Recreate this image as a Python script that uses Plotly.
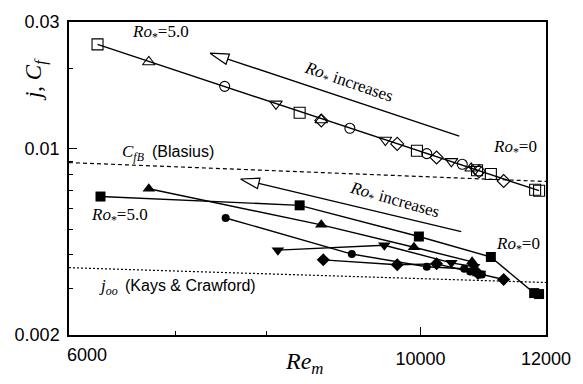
import numpy as np
import plotly.graph_objects as go

# ---------------- data ----------------
# open symbols (upper group, friction factor Cf)
os_re = [6254, 8389, 9948, 10856, 11076, 11812, 11880]
os_cf = [0.02471, 0.01369, 0.00985, 0.00832, 0.00805, 0.00703, 0.00697]
ot_re = [6738, 8657, 10763]
ot_cf = [0.02123, 0.01285, 0.00846]
oc_re = [7523, 9024, 10091, 10625]
oc_cf = [0.01719, 0.01196, 0.00961, 0.00876]
od_re = [8105, 9502, 10459, 10825]
od_cf = [0.01477, 0.01081, 0.00898, 0.00839]
odm_re = [8657, 9667, 10236, 10887, 11284]
odm_cf = [0.01280, 0.01045, 0.00929, 0.00825, 0.00758]
fit_re = [6254, 11880]
fit_cf = [0.02471, 0.00697]

# filled symbols (lower group, j)
fs_re = [6281, 8389, 9976, 11076, 11795, 11880]
fs_j = [0.006627, 0.006141, 0.004689, 0.003927, 0.002874, 0.002850]
ft_re = [6738, 8657, 9905, 10778, 10825, 10871]
ft_j = [0.007089, 0.005187, 0.004273, 0.003766, 0.003520, 0.003402]
fc_re = [7534, 9050, 10091, 10656, 10748, 10934]
fc_j = [0.005505, 0.004029, 0.003610, 0.003549, 0.003461, 0.003374]
fd_re = [8128, 9488, 10459, 10809, 10903]
fd_j = [0.004167, 0.004347, 0.003734, 0.003610, 0.003402]
fdm_re = [8682, 9667, 10236, 10871, 11284]
fdm_j = [0.003831, 0.003672, 0.003702, 0.003402, 0.003234]

# reference correlations
blas_re = [6000, 12000]
blas_cf = [0.00889, 0.00755]
kays_re = [6000, 12000]
kays_j = [0.00358, 0.00315]

# "Ro* increases" arrows (tail -> tip)
arr1_re = [10579, 7364]
arr1_v = [0.01118, 0.02290]
arr2_re = [10609, 7698]
arr2_v = [0.004890, 0.007713]

x_ticks = [10000, 12000]
x_ticktext = ["10000", "12000"]
x_first_label = "6000"
x_minor = [7000, 8000]
y_ticks = [0.002, 0.01, 0.03]
y_ticktext = ["0.002", "0.01", "0.03"]
y_minor = [0.003, 0.004, 0.005, 0.006, 0.007, 0.008, 0.009, 0.02]

# ---------------- layout geometry ----------------
WIDTH, HEIGHT = 583, 384
ML, MR, MT, MB = 69, 30, 14, 49
PW = WIDTH - ML - MR
PH = HEIGHT - MT - MB
XR = [np.log10(6000), np.log10(12000)]
YR = [np.log10(0.002), np.log10(0.03)]

def to_px(x, y):
    px = ML + PW * (np.log10(x) - XR[0]) / (XR[1] - XR[0])
    py = MT + PH - PH * (np.log10(y) - YR[0]) / (YR[1] - YR[0])
    return px, py

def from_px(px, py):
    lx = XR[0] + (px - ML) / PW * (XR[1] - XR[0])
    ly = YR[0] + (MT + PH - py) / PH * (YR[1] - YR[0])
    return 10 ** lx, 10 ** ly

def paper(px, py):
    return (px - ML) / PW, (MT + PH - py) / PH

SERIF = "Liberation Serif"
SANS = "Liberation Sans"

fig = go.Figure()

def add_open(xs, ys, sym, size):
    fig.add_trace(go.Scatter(x=xs, y=ys, mode="markers",
                             marker=dict(symbol=sym, size=size, color="black",
                                         line=dict(width=1.1, color="black")),
                             showlegend=False, hoverinfo="skip"))

def add_filled(xs, ys, sym, size):
    fig.add_trace(go.Scatter(x=xs, y=ys, mode="lines+markers",
                             line=dict(color="black", width=1.4),
                             marker=dict(symbol=sym, size=size, color="black"),
                             showlegend=False, hoverinfo="skip"))

# reference lines
fig.add_trace(go.Scatter(x=blas_re, y=blas_cf, mode="lines",
                         line=dict(color="black", width=1.2, dash="4px,3px"),
                         showlegend=False, hoverinfo="skip"))
fig.add_trace(go.Scatter(x=kays_re, y=kays_j, mode="lines",
                         line=dict(color="black", width=1.2, dash="2px,2px"),
                         showlegend=False, hoverinfo="skip"))

# upper (open) group fit line
fig.add_trace(go.Scatter(x=fit_re, y=fit_cf, mode="lines",
                         line=dict(color="black", width=1.4),
                         showlegend=False, hoverinfo="skip"))
add_open(os_re, os_cf, "square-open", 11)
add_open(ot_re, ot_cf, "triangle-up-open", 11)
add_open(oc_re, oc_cf, "circle-open", 10)
add_open(od_re, od_cf, "triangle-down-open", 11)
add_open(odm_re, odm_cf, "diamond-open", 10)

# lower (filled) group
add_filled(fs_re, fs_j, "square", 10)
add_filled(ft_re, ft_j, "triangle-up", 11)
add_filled(fc_re, fc_j, "circle", 8)
add_filled(fd_re, fd_j, "triangle-down", 11)
add_filled(fdm_re, fdm_j, "diamond", 10)

# arrows with open heads
def add_arrow(xs, ys, head_len=19, head_half=5.5):
    sx, sy = to_px(xs[0], ys[0])
    tx, ty = to_px(xs[1], ys[1])
    d = np.hypot(tx - sx, ty - sy)
    ux, uy = (tx - sx) / d, (ty - sy) / d
    bx, by = tx - ux * head_len, ty - uy * head_len
    nx, ny = -uy, ux
    shaft = [from_px(sx, sy), from_px(bx, by)]
    fig.add_trace(go.Scatter(x=[p[0] for p in shaft], y=[p[1] for p in shaft],
                             mode="lines", line=dict(color="black", width=1.4),
                             showlegend=False, hoverinfo="skip"))
    head = [from_px(tx, ty), from_px(bx + nx * head_half, by + ny * head_half),
            from_px(bx - nx * head_half, by - ny * head_half), from_px(tx, ty)]
    fig.add_trace(go.Scatter(x=[p[0] for p in head], y=[p[1] for p in head],
                             mode="lines", fill="toself", fillcolor="white",
                             line=dict(color="black", width=1.2),
                             showlegend=False, hoverinfo="skip"))

add_arrow(arr1_re, arr1_v)
add_arrow(arr2_re, arr2_v)

annotations = []

def ann(text, px, py, size=16, family=SERIF, xanchor="center", angle=0):
    x, y = paper(px, py)
    annotations.append(dict(text=text, x=x, y=y, xref="paper", yref="paper",
                            xanchor=xanchor, yanchor="middle", showarrow=False,
                            textangle=angle, font=dict(family=family, size=size, color="black")))

ro = "<i>Ro</i><sub>*</sub>"
ann(ro + "=5.0", 162, 25, size=17)
ann(ro + "=0", 522, 143, size=17)
ann(ro + "=5.0", 120, 213, size=17)
ann(ro + "=0", 525, 243, size=17)
ann(ro + " increases", 352, 77, size=17, angle=19)
ann(ro + " increases", 399, 198, size=17, angle=16)
ann("<i>C<sub>fB</sub></i>", 147, 148, size=17, xanchor="right")
ann("(Blasius)", 151, 147, size=16, family=SANS, xanchor="left")
ann("<i>j<sub>oo</sub></i>", 121, 286, size=17, xanchor="right")
ann("(Kays &amp; Crawford)", 124, 284, size=16, family=SANS, xanchor="left")
ann("<i>j</i>, <i>C<sub>f</sub></i>", 35, 73, size=23, angle=-90)
ann("<i>Re<sub>m</sub></i>", 307, 364, size=24)
ann(x_first_label, 65, 356, size=18, family=SANS, xanchor="left")

fig.update_layout(
    width=WIDTH, height=HEIGHT,
    margin=dict(l=ML, r=MR, t=MT, b=MB),
    paper_bgcolor="white", plot_bgcolor="white",
    showlegend=False,
    annotations=annotations,
    xaxis=dict(type="log", range=XR, showgrid=False, zeroline=False,
               showline=True, mirror=True, linecolor="black", linewidth=1.5,
               ticks="inside", ticklen=8, tickcolor="black", tickwidth=1,
               tickvals=x_ticks, ticktext=x_ticktext, ticklabelstandoff=7,
               tickfont=dict(family=SANS, size=18, color="black"),
               minor=dict(tickvals=x_minor, ticks="inside", ticklen=4,
                          tickcolor="black", showgrid=False)),
    yaxis=dict(type="log", range=YR, showgrid=False, zeroline=False,
               showline=True, mirror=True, linecolor="black", linewidth=1.5,
               ticks="inside", ticklen=8, tickcolor="black", tickwidth=1,
               tickvals=y_ticks, ticktext=y_ticktext, ticklabelstandoff=4,
               tickfont=dict(family=SANS, size=18, color="black"),
               minor=dict(tickvals=y_minor, ticks="inside", ticklen=4,
                          tickcolor="black", showgrid=False)),
)

fig.write_html("out.html")
